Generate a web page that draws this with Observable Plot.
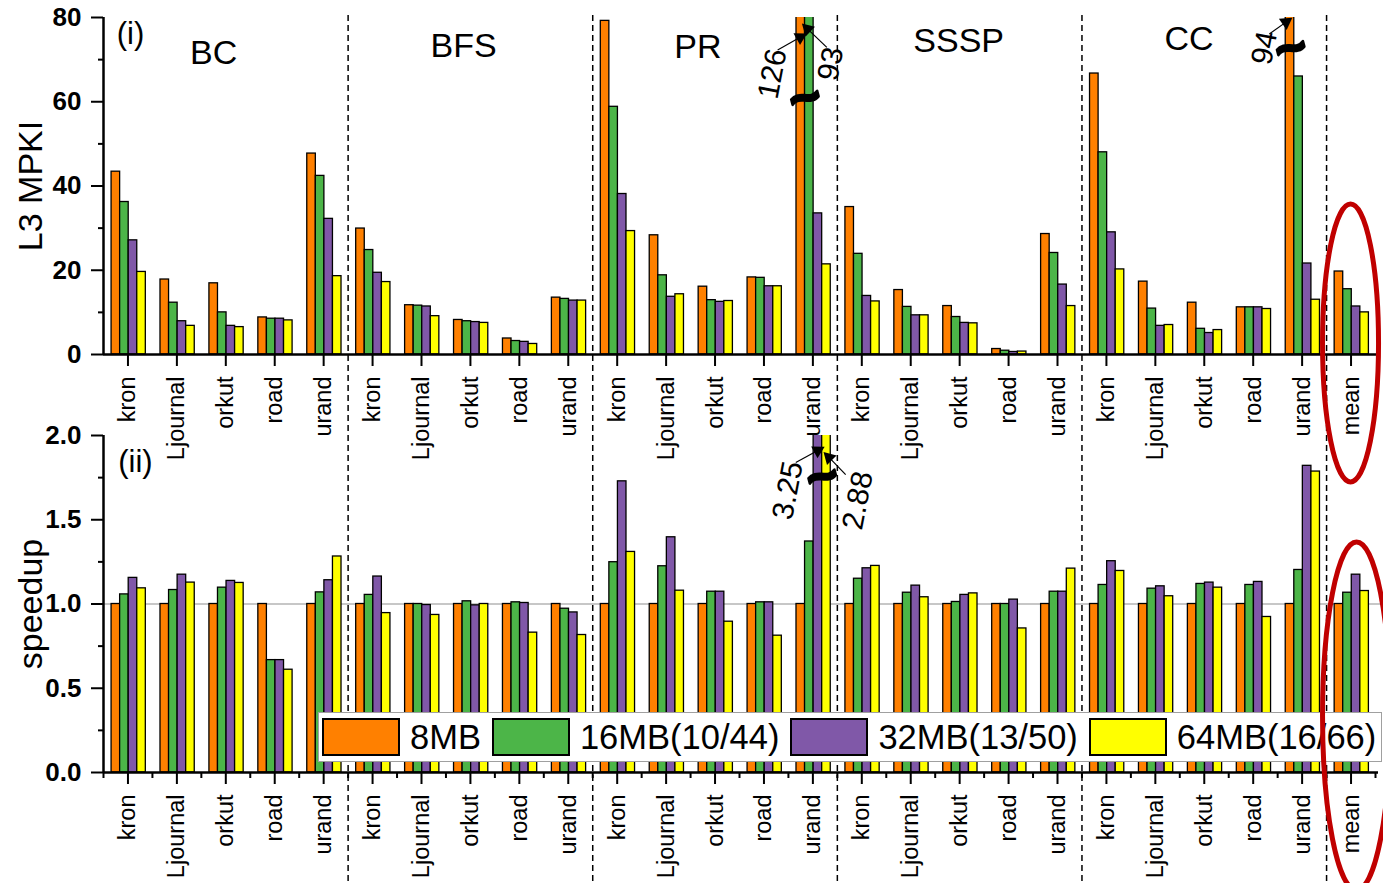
<!DOCTYPE html>
<html><head><meta charset="utf-8">
<script src="https://cdn.jsdelivr.net/npm/d3@7"></script>
<script src="https://cdn.jsdelivr.net/npm/@observablehq/plot@0.6"></script>
<style>
html,body{margin:0;padding:0;background:#fff;overflow:hidden;}
#wrap{position:relative;width:1383px;height:883px;overflow:hidden;font-family:"Liberation Sans",Arial,sans-serif;}
#wrap > svg{position:absolute;left:0;top:0;}
#legend{position:absolute;left:318px;top:712px;width:1064px;height:50px;box-sizing:border-box;border:1.5px solid #a0a0a0;background:#fff;display:flex;align-items:center;padding-left:3px;}
.sw{width:78px;height:38px;box-sizing:border-box;border:2px solid #000;margin-right:10px;flex:none;}
.lb{font-size:34.5px;margin-right:11px;white-space:nowrap;color:#000;line-height:1;}
</style></head><body><div id="wrap"></div>
<script>
// ---- data ----
const workloads = ["BC", "BFS", "PR", "SSSP", "CC"];
const graphs = ["kron", "Ljournal", "orkut", "road", "urand"];
const categories = [...workloads.flatMap(() => graphs), "mean"];
const sizes = ["8MB", "16MB(10/44)", "32MB(13/50)", "64MB(16/66)"];
const colors = ["#FF8000", "#4CB548", "#8058A8", "#FFFF00"];

// L3 MPKI (order: BC, BFS, PR, SSSP, CC x kron, Ljournal, orkut, road, urand; then mean)
const mpki8  = [43.4,17.8,16.9,8.8,47.7, 29.9,11.7,8.2,3.8,13.5, 79.2,28.3,16.1,18.3,126, 35.0,15.3,11.5,1.3,28.6, 66.7,17.3,12.3,11.2,94, 19.7];
const mpki16 = [36.2,12.3,10.0,8.5,42.4, 24.8,11.6,7.9,3.2,13.2, 58.8,18.8,12.9,18.2,93,  23.9,11.3,8.9,0.9,24.1, 48.0,10.9,6.1,11.2,66.0, 15.5];
const mpki32 = [27.1,7.9,6.8,8.5,32.2,  19.4,11.4,7.7,3.0,12.8, 38.1,13.7,12.5,16.2,33.5, 13.9,9.3,7.5,0.6,16.6, 29.0,6.8,5.1,11.2,21.6, 11.4];
const mpki64 = [19.6,6.8,6.5,8.1,18.6,  17.2,9.1,7.5,2.5,12.8,  29.3,14.3,12.7,16.2,21.4, 12.6,9.3,7.4,0.7,11.5, 20.2,7.0,5.8,10.8,13.0, 10.0];

// speedup
const sp8  = [1,1,1,1,1, 1,1,1,1,1, 1,1,1,1,1, 1,1,1,1,1, 1,1,1,1,1, 1];
const sp16 = [1.057,1.083,1.097,0.667,1.069, 1.054,1.0,1.016,1.01,0.972, 1.248,1.224,1.073,1.01,1.371, 1.15,1.067,1.012,1.0,1.073, 1.113,1.091,1.119,1.113,1.202, 1.067];
const sp32 = [1.155,1.174,1.137,0.667,1.141, 1.163,0.994,0.992,1.006,0.95, 1.728,1.396,1.073,1.01,3.25, 1.212,1.109,1.054,1.026,1.073, 1.254,1.105,1.127,1.131,1.82, 1.174];
const sp64 = [1.093,1.127,1.125,0.61,1.282, 0.946,0.935,1.0,0.83,0.816, 1.309,1.079,0.895,0.812,2.88, 1.226,1.04,1.063,0.855,1.21, 1.196,1.046,1.097,0.923,1.786, 1.077];

const mpkiTicks = [0, 20, 40, 60, 80];
const mpkiMinor = [10, 30, 50, 70];
const spTicks = [0, 0.5, 1.0, 1.5, 2.0];
const spMinor = [0.25, 0.75, 1.25, 1.75];

// annotations (data space: x = category slot, y = value)
const titles = [
  {name: "BC", x: 2.25, y: 71.6}, {name: "BFS", x: 7.36, y: 73.1}, {name: "PR", x: 12.15, y: 72.9},
  {name: "SSSP", x: 17.48, y: 74.3}, {name: "CC", x: 22.19, y: 74.9}
];
const topNotes = [
  {label: "126", x: 13.675, y: 66.6, x1: 13.78, y1: 72.3, x2: 14.24, y2: 75.3, ang: 61},
  {label: "93", x: 14.865, y: 69.0, x1: 14.785, y1: 72.9, x2: 14.39, y2: 77.3, ang: -46},
  {label: "94", x: 23.73, y: 72.8, x1: 23.83, y1: 76.1, x2: 24.17, y2: 78.9, ang: 55}
];
const topBreaks = [{x: 14.34, y: 60.8}, {x: 24.27, y: 72.6}];
const botNotes = [
  {label: "3.25", x: 13.99, y: 1.674, x1: 14.15, y1: 1.84, x2: 14.6, y2: 1.911, ang: 62},
  {label: "2.88", x: 15.42, y: 1.614, x1: 15.17, y1: 1.768, x2: 14.83, y2: 1.87, ang: -45}
];
const botBreaks = [{x: 14.69, y: 1.752}];

// ---- table ----
const mpki = [mpki8, mpki16, mpki32, mpki64];
const speedup = [sp8, sp16, sp32, sp64];
const rows = [];
categories.forEach((c, i) => sizes.forEach((s, j) => rows.push({i, j, size: s, mpki: mpki[j][i], speedup: speedup[j][i]})));

const PAD = 0.165, BW = 0.175;
const x1 = d => d.i + PAD + d.j * BW;
const x2 = d => d.i + PAD + (d.j + 1) * BW;
const centers = categories.map((c, i) => i + 0.5);
const edges = d3.range(0, categories.length + 1);
const groupEdges = [5, 10, 15, 20, 25];

const W = 1383, H = 883;
const font = "Liberation Sans, Arial, Helvetica, sans-serif";
const common = {
  width: W, height: H, marginLeft: 103, marginRight: 8,
  x: {domain: [0, categories.length], axis: null},
  color: {domain: sizes, range: colors},
  style: {background: "transparent", overflow: "visible", fontFamily: font, color: "black"}
};

function noteMarks(notes, breaks) {
  return [
    Plot.link(notes, {x1: "x1", y1: "y1", x2: "x2", y2: "y2", stroke: "black", strokeWidth: 1.2}),
    ...notes.map(n => Plot.dot([n], {x: "x2", y: "y2", symbol: "triangle", r: 5, fill: "black", stroke: "none", rotate: n.ang})),
    Plot.text(notes, {x: "x", y: "y", text: "label", rotate: -79, fontSize: 30}),
    Plot.text(breaks, {x: "x", y: "y", text: () => "~", rotate: -15, fontSize: 54, fontWeight: "bold", fill: "black", stroke: "black", strokeWidth: 2.5})
  ];
}

const topPlot = Plot.plot({
  ...common, marginTop: 17, marginBottom: H - 354,
  y: {domain: [0, 80], axis: null},
  marks: [
    Plot.ruleX(groupEdges, {stroke: "black", strokeWidth: 1.5, strokeDasharray: "6,4", insetTop: -2, insetBottom: -81}),
    Plot.rectY(rows, {x1, x2, y1: 0, y2: "mpki", fill: "size", stroke: "black", strokeWidth: 1.3, clip: true}),
    Plot.axisY({ticks: mpkiTicks, tickSize: 12, tickPadding: 10, fontSize: 26, fontWeight: "bold", label: null, strokeWidth: 2}),
    Plot.axisY({ticks: mpkiMinor, tickSize: 5, tickFormat: () => "", label: null, strokeWidth: 2}),
    Plot.axisX({ticks: centers, tickFormat: v => categories[Math.floor(v)], tickRotate: -90, tickSize: 12, tickPadding: 10, fontSize: 23.5, label: null, strokeWidth: 2}),
    Plot.ruleY([0], {stroke: "black", strokeWidth: 2.5, insetRight: -3}),
    Plot.ruleX([0], {stroke: "black", strokeWidth: 2.5}),
    Plot.text(["L3 MPKI"], {text: d => d, frameAnchor: "left", textAnchor: "middle", dx: -72, rotate: -90, fontSize: 34}),
    Plot.text(["(i)"], {text: d => d, x: 0.27, y: 76, textAnchor: "start", fontSize: 31}),
    Plot.text(titles, {x: "x", y: "y", text: "name", fontSize: 34}),
    ...noteMarks(topNotes, topBreaks)
  ]
});

const botPlot = Plot.plot({
  ...common, marginTop: 435, marginBottom: 111,
  y: {domain: [0, 2], axis: null},
  marks: [
    Plot.ruleY([1], {stroke: "#8f8f8f", strokeWidth: 1, insetRight: -8}),
    Plot.ruleX(groupEdges, {stroke: "black", strokeWidth: 1.5, strokeDasharray: "6,4", insetBottom: -111}),
    Plot.rectY(rows, {x1, x2, y1: 0, y2: "speedup", fill: "size", stroke: "black", strokeWidth: 1.3, clip: true}),
    Plot.axisY({ticks: spTicks, tickFormat: d3.format(".1f"), tickSize: 12, tickPadding: 10, fontSize: 26, fontWeight: "bold", label: null, strokeWidth: 2}),
    Plot.axisY({ticks: spMinor, tickSize: 5, tickFormat: () => "", label: null, strokeWidth: 2}),
    Plot.axisX({ticks: centers, tickFormat: v => categories[Math.floor(v)], tickRotate: -90, tickSize: 12, tickPadding: 10, fontSize: 23.5, label: null, strokeWidth: 2}),
    Plot.axisX({ticks: edges, tickFormat: () => "", tickSize: 6, label: null, strokeWidth: 2}),
    Plot.ruleY([0], {stroke: "black", strokeWidth: 2.5, insetRight: -3}),
    Plot.ruleX([0], {stroke: "black", strokeWidth: 2.5}),
    Plot.text(["speedup"], {text: d => d, frameAnchor: "left", textAnchor: "middle", dx: -72, rotate: -90, fontSize: 34}),
    Plot.text(["(ii)"], {text: d => d, x: 0.3, y: 1.84, textAnchor: "start", fontSize: 31}),
    ...noteMarks(botNotes, botBreaks)
  ]
});

const wrap = document.getElementById("wrap");
wrap.appendChild(botPlot);
wrap.appendChild(topPlot);

// legend
const legend = document.createElement("div");
legend.id = "legend";
sizes.forEach((s, j) => {
  const sw = document.createElement("div");
  sw.className = "sw"; sw.style.background = colors[j];
  const lb = document.createElement("div");
  lb.className = "lb"; lb.textContent = s;
  legend.appendChild(sw); legend.appendChild(lb);
});
wrap.appendChild(legend);

// red highlight ellipses around the mean group
const xs = topPlot.scale("x");
const cx = xs.apply(categories.length - 0.5);
const ov = d3.select(wrap).append("svg")
  .attr("width", W).attr("height", H)
  .style("position", "absolute").style("left", 0).style("top", 0).style("pointer-events", "none");
ov.append("ellipse").attr("cx", cx).attr("cy", 343).attr("rx", 28).attr("ry", 139)
  .attr("fill", "none").attr("stroke", "#C00000").attr("stroke-width", 5);
ov.append("ellipse").attr("cx", cx + 6).attr("cy", 716).attr("rx", 34).attr("ry", 174)
  .attr("fill", "none").attr("stroke", "#C00000").attr("stroke-width", 5);
</script></body></html>
